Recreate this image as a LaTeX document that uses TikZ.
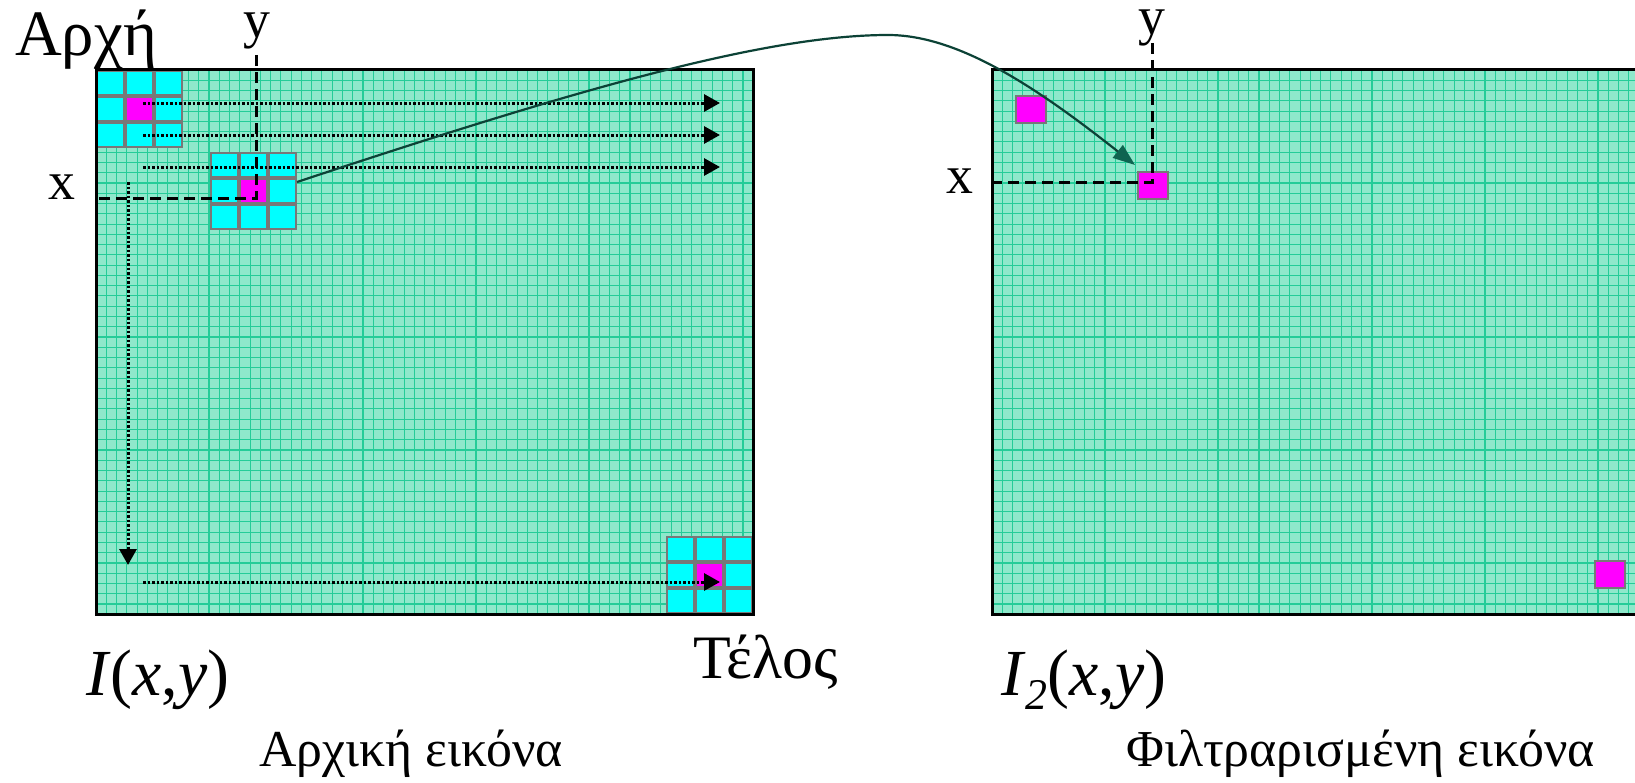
\documentclass[tikz,border=0pt]{standalone}
\usepackage{fontspec}
\setmainfont{Liberation Serif}
\usetikzlibrary{arrows.meta}
\definecolor{panelfill}{RGB}{142,232,203}
\definecolor{gridcol}{RGB}{36,204,152}
\definecolor{kgray}{RGB}{120,120,120}
\definecolor{curvecol}{RGB}{12,66,54}
\definecolor{headcol}{RGB}{14,100,80}
\definecolor{mag}{RGB}{255,0,255}
\definecolor{cyn}{RGB}{0,255,255}
\tikzset{
  gridline/.style={gridcol, line width=1.1bp},
  border/.style={draw=black, line width=3bp},
  dotarrow/.style={line width=3bp, dash pattern=on 2.5bp off 2bp, -{Triangle[length=16bp,width=17bp]}},
  dashline/.style={line width=3bp, dash pattern=on 11bp off 6bp},
  sqr/.style={fill=mag, draw=kgray, line width=2bp, inner sep=0pt, minimum width=30bp, minimum height=27bp, anchor=north west},
  lbl/.style={inner sep=0pt, anchor=base west},
  kernel/.pic={
    \fill[kgray] (0,0) rectangle (87,78);
    \foreach \i in {0,1,2}{\foreach \j in {0,1,2}{
      \fill[cyn] ({\i*29+2},{\j*26+2}) rectangle ({\i*29+27},{\j*26+24});}}
    \fill[mag] (31,28) rectangle (56,50);
  }
}
\begin{document}
\begin{tikzpicture}[x=1bp,y=-1bp]
\useasboundingbox (0,0) rectangle (1635,783);
\clip (0,0) rectangle (1635,783);
% panels
\fill[panelfill] (96,70) rectangle (753,614);
\fill[panelfill] (992,70) rectangle (1660,614);
\foreach \k in {0,...,63}{\draw[gridline] ({96+\k*10.27},70) -- ({96+\k*10.27},614);}
\foreach \k in {0,...,65}{\draw[gridline] ({992+\k*10.27},70) -- ({992+\k*10.27},614);}
\foreach \k in {0,...,52}{\draw[gridline] (96,{70+\k*10.27}) -- (753,{70+\k*10.27});
                          \draw[gridline] (992,{70+\k*10.27}) -- (1660,{70+\k*10.27});}
% kernels
\pic at (96,70) {kernel};
\pic at (210,152) {kernel};
\pic at (666,536) {kernel};
% output pixels
\node[sqr] (o1) at (1015,95) {};
\node[sqr] (o2) at (1137,171) {};
\node[sqr] (o3) at (1594,560) {};
% borders
\draw[border] (96,70) rectangle (753,614);
\draw[border] (992,70) rectangle (1660,614);
% scan arrows
\coordinate (r1s) at (143,103); \coordinate (r1e) at (720,103);
\coordinate (r2s) at (143,135); \coordinate (r2e) at (720,135);
\coordinate (r3s) at (143,167); \coordinate (r3e) at (720,167);
\coordinate (vs) at (128,182);  \coordinate (ve) at (128,565);
\coordinate (r4s) at (143,582); \coordinate (r4e) at (720,582);
\draw[dotarrow] (r1s) -- (r1e);
\draw[dotarrow] (r2s) -- (r2e);
\draw[dotarrow] (r3s) -- (r3e);
\draw[dotarrow] (vs) -- (ve);
\draw[dotarrow] (r4s) -- (r4e);
% dashed coordinate lines
\coordinate (ly) at (256,55); \coordinate (lc) at (256,198); \coordinate (lx) at (96,198);
\draw[dashline] (ly) -- (lc) -- (lx);
\coordinate (ry) at (1152,43); \coordinate (rc) at (1152,182); \coordinate (rx) at (992,182);
\draw[dashline] (ry) -- (rc) -- (rx);
% mapping curve
\coordinate (cs) at (297,182);
\coordinate (ce) at (1135,165);
\draw[curvecol, line width=2.2bp, -{Triangle[length=22bp,width=16bp,fill=headcol,color=headcol]}] (cs) .. controls (560,95) and (760,35) .. (888,35) .. controls (960,35) and (1040,90) .. (ce);
% labels
\node[lbl, font=\fontsize{65}{70}\selectfont] (tstart) at (15,56) {Αρχή};
\node[inner sep=0pt, anchor=base, font=\fontsize{54}{60}\selectfont] (ty1) at (257,38) {y};
\node[inner sep=0pt, anchor=base, font=\fontsize{54}{60}\selectfont] (tx1) at (62,199) {x};
\node[inner sep=0pt, anchor=base, font=\fontsize{54}{60}\selectfont] (ty2) at (1152,35) {y};
\node[inner sep=0pt, anchor=base, font=\fontsize{54}{60}\selectfont] (tx2) at (960,193) {x};
\node[lbl, font=\fontsize{62}{66}\selectfont] (tend) at (693,678) {Τέλος};
\node[lbl, font=\fontsize{66}{70}\selectfont] (ti1) at (86,695) {\textit{I}(\textit{x},\textit{y})};
\node[lbl, font=\fontsize{66}{70}\selectfont] (ti2) at (1001,695) {\textit{I}\raisebox{-0.22em}{\fontsize{44}{48}\selectfont\textit{2}}(\textit{x},\textit{y})};
\node[lbl, font=\fontsize{52}{56}\selectfont] (tc1) at (259,766) {Αρχική εικόνα};
\node[lbl, font=\fontsize{52}{56}\selectfont] (tc2) at (1126,766) {Φιλτραρισμένη εικόνα};
\end{tikzpicture}
\end{document}
